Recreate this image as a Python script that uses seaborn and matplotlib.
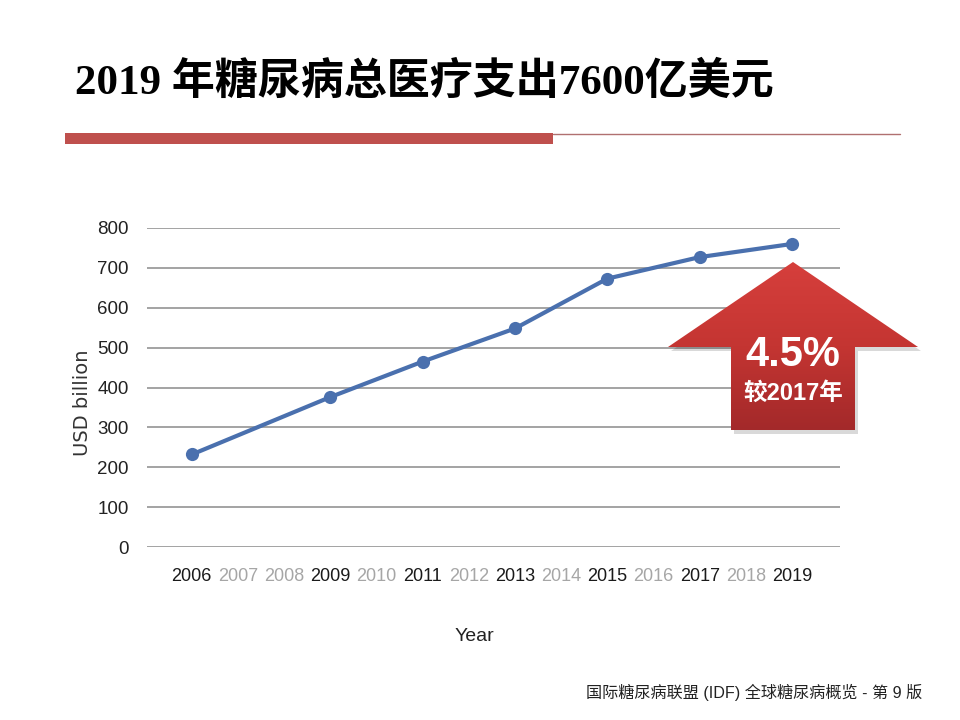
import numpy as np
import pandas as pd
import matplotlib
matplotlib.use("Agg")
import matplotlib.pyplot as plt
from matplotlib.patches import Polygon, Rectangle
import seaborn as sns

# chart data
years = [2006, 2009, 2011, 2013, 2015, 2017, 2019]
spend = [232, 376, 465, 548, 673, 727, 760]
tick_years = list(range(2006, 2020))
y_ticks = [0, 100, 200, 300, 400, 500, 600, 700, 800]

title = "2019 年糖尿病总医疗支出7600亿美元"
growth_label = "4.5%"
growth_note = "较2017年"
footer = "国际糖尿病联盟 (IDF) 全球糖尿病概览 - 第 9 版"

df = pd.DataFrame({"Year": years, "USD billion": spend})

sns.set_theme(style="white")
plt.rcParams["font.family"] = ["DejaVu Sans", "Noto Sans CJK SC"]

tick_font = ["Liberation Sans", "DejaVu Sans"]

fig = plt.figure(figsize=(9.6, 7.2), dpi=100, facecolor="white")
ax = fig.add_axes([147 / 960, 1 - 547 / 720, (840 - 147) / 960, (547 - 228) / 720])

sns.lineplot(data=df, x="Year", y="USD billion", ax=ax, color="#4A70AE",
             linewidth=3, marker="o", markersize=9.5, markeredgewidth=0,
             clip_on=False, zorder=5)

ax.set_xlim(2005.03, 2020.04)
ax.set_ylim(0, 800)
ax.set_yticks(y_ticks)
ax.set_xticks(tick_years)
ax.yaxis.grid(True, color="#8a8a8a", linewidth=1.1)
ax.xaxis.grid(False)
for s in ax.spines.values():
    s.set_visible(False)
ax.tick_params(axis="both", length=0)
ax.tick_params(axis="y", pad=13)
ax.tick_params(axis="x", pad=15)

ax.set_yticklabels([str(v) for v in y_ticks], fontsize=13.5, family=tick_font, color="#222222")
ax.set_xticklabels([str(y) for y in tick_years], fontsize=13, family=tick_font)
for lab, yr in zip(ax.get_xticklabels(), tick_years):
    lab.set_color("#1a1a1a" if yr in years else "#a6a6a6")

ax.set_xlabel("Year", fontsize=14, family=tick_font, color="#222222")
ax.xaxis.set_label_coords(0.472, -0.255)
ax.set_ylabel("USD billion", fontsize=14, color="#333333")
ax.yaxis.set_label_coords(-0.079, 0.451)

# overlay in pixel coordinates for slide decorations
ov = fig.add_axes([0, 0, 1, 1], zorder=10)
ov.axis("off")
ov.patch.set_alpha(0)

ov.text(75, 82, title, fontsize=31, fontweight="bold",
        family=["Liberation Serif", "Noto Sans CJK SC"], color="black", va="center", ha="left")
ov.add_patch(Rectangle((65, 133), 488, 11, color="#BF504D", lw=0))
ov.plot([553, 900], [133.5, 133.5], color="#B07070", lw=1)

# arrow
pts = [(793, 262), (918, 347), (855, 347), (855, 430), (731, 430), (731, 347), (668, 347)]
shadow = Polygon([(x + 3, y + 4) for x, y in pts], closed=True, color="#000000", alpha=0.15, lw=0)
ov.add_patch(shadow)
arrow = Polygon(pts, closed=True, facecolor="none", edgecolor="none")
ov.add_patch(arrow)
grad = np.linspace(0, 1, 256).reshape(-1, 1)
cmap = matplotlib.colors.LinearSegmentedColormap.from_list("rg", ["#D63F3C", "#C43532", "#A3292A"])
img = ov.imshow(grad, cmap=cmap, extent=(668, 918, 430, 262), aspect="auto", zorder=2)
img.set_clip_path(arrow)
ov.set_xlim(0, 960)
ov.set_ylim(720, 0)

ov.text(793, 355, growth_label, fontsize=30, fontweight="bold", color="white",
        ha="center", va="center", family=["Liberation Sans", "DejaVu Sans"], zorder=3)
ov.text(793, 393, growth_note, fontsize=17, fontweight="bold", color="white",
        ha="center", va="center", family=["Liberation Sans", "Noto Sans CJK SC"], zorder=3)

ov.text(922, 692, footer, fontsize=11.6, color="#222222", ha="right", va="center",
        family=["Liberation Sans", "Noto Sans CJK SC"])

fig.savefig("out.png", dpi=100, facecolor="white")
